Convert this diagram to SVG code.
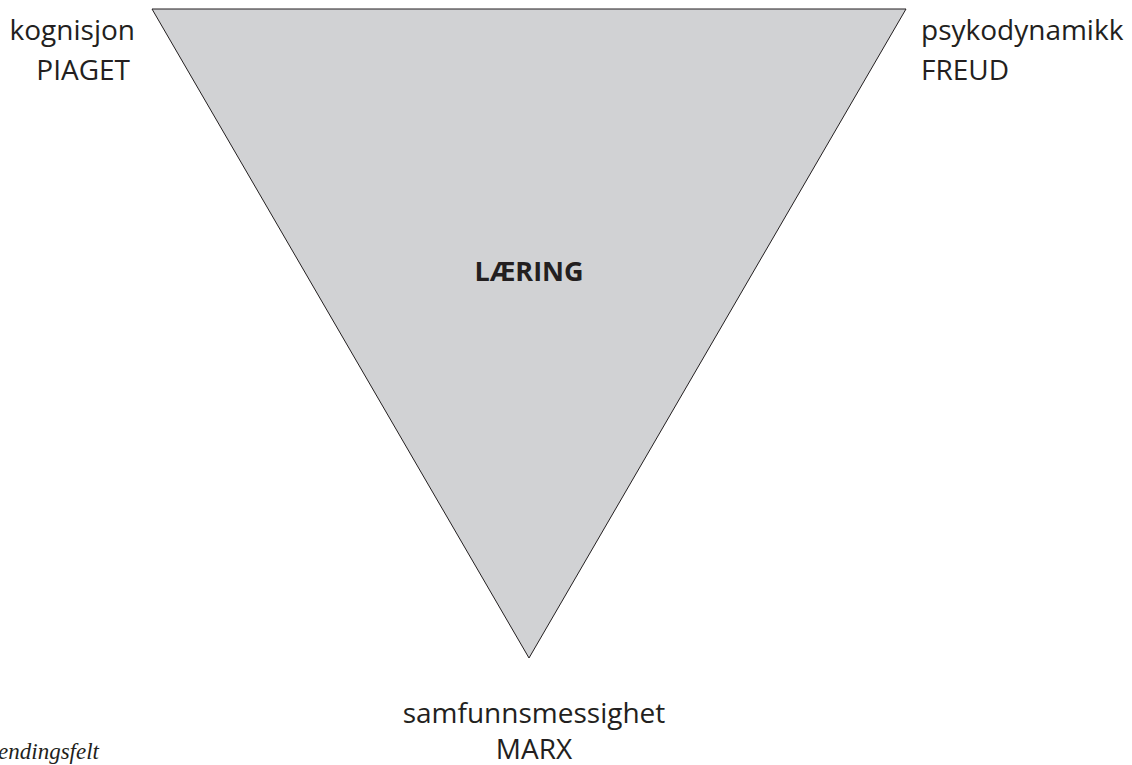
<svg xmlns="http://www.w3.org/2000/svg" width="1132" height="765" viewBox="0 0 1132 765">
  <style>
    .lbl { font-family: "Open Sans", "Liberation Sans", sans-serif; font-size: 28px; fill: #231f20; }
    .core { font-family: "Open Sans", "Liberation Sans", sans-serif; font-size: 27px; font-weight: bold; fill: #231f20; }
    .note { font-family: "Liberation Serif", serif; font-style: italic; font-size: 23px; fill: #231f20; }
    .tri { fill: #d1d2d4; stroke: #231f20; stroke-width: 1; }
  </style>
  <rect width="1132" height="765" fill="#ffffff"/>
  <g id="triangle">
    <polygon class="tri" points="152,9 906,9 529,658"/>
    <text class="core" x="529" y="281" text-anchor="middle">LÆRING</text>
  </g>
  <g id="kognisjon">
    <text class="lbl" x="135" y="40" text-anchor="end">kognisjon</text>
    <text class="lbl" x="130" y="80" text-anchor="end">PIAGET</text>
  </g>
  <g id="psykodynamikk">
    <text class="lbl" x="921" y="40">psykodynamikk</text>
    <text class="lbl" x="921" y="80">FREUD</text>
  </g>
  <g id="samfunnsmessighet">
    <text class="lbl" x="534" y="723" text-anchor="middle">samfunnsmessighet</text>
    <text class="lbl" x="534" y="759" text-anchor="middle">MARX</text>
  </g>
  <g id="footnote">
    <text class="note" x="99" y="759" text-anchor="end">endingsfelt</text>
  </g>
  <g id="connectors"/>
</svg>
